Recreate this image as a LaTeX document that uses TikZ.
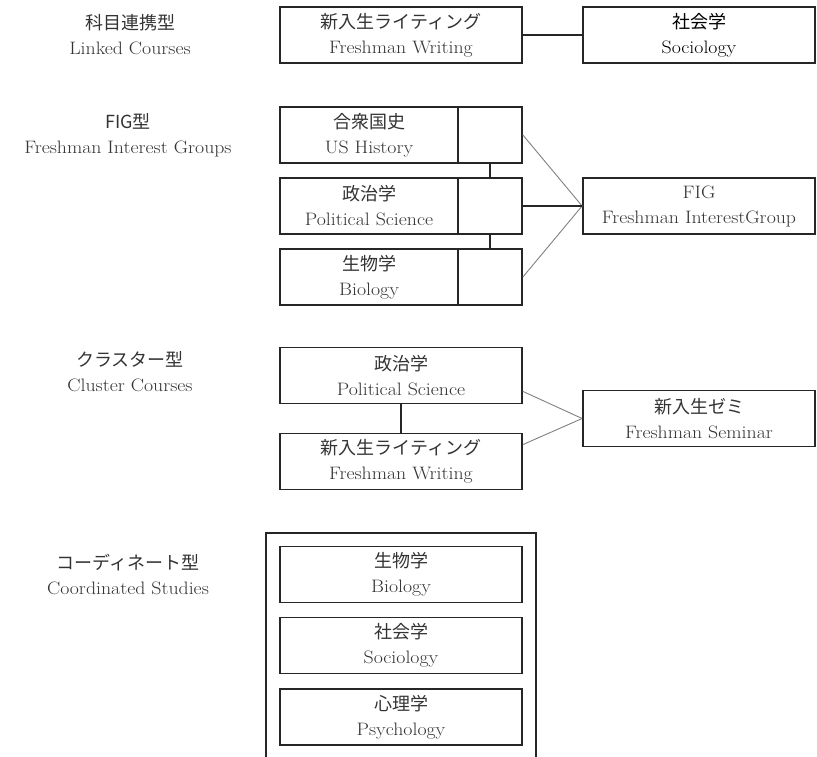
\documentclass[tikz,border=0pt]{standalone}
\usepackage{fontspec}
\setmainfont{Latin Modern Roman}[FakeStretch=1.1]
\newfontfamily\jp{Noto Sans CJK JP}
\usetikzlibrary{calc}
\definecolor{boxc}{HTML}{262626}
\definecolor{txtc}{HTML}{333333}
\definecolor{thinc}{HTML}{808080}
\begin{document}
\begin{tikzpicture}[x=1pt,y=-1pt,
  box/.style={draw=boxc, line width=1.8pt, minimum height=56pt, inner sep=0pt, align=center, text=txtc, font=\fontsize{18}{25}\selectfont},
  wide/.style={box, minimum width=242pt},
  half/.style={box, minimum width=178pt},
  stub/.style={box, minimum width=64pt},
  sidebox/.style={box, minimum width=232pt},
  lab/.style={align=center, text=txtc, font=\fontsize{18}{25}\selectfont},
  link/.style={draw=boxc, line width=1.8pt},
  thin/.style={draw=thinc, line width=0.9pt}]
\useasboundingbox (0,0) rectangle (817,757);
% Row 1: Linked Courses
\node[lab] (l1) at (130,35) {{\jp 科目連携型}\\Linked Courses};
\node[wide] (fw1) at (401,35) {{\jp 新入生ライティング}\\Freshman Writing};
\node[sidebox, text=black] (soc1) at (699,35) {{\jp 社会学}\\Sociology};
\draw[link] (fw1.east) -- (soc1.west);
% Row 2: FIG
\node[lab] (l2) at (128,135) {{\jp FIG型}\\Freshman Interest Groups};
\node[half] (usL) at (369,135) {{\jp 合衆国史}\\US History};
\node[stub] (usR) at (490,135) {};
\node[half] (psL) at (369,206) {{\jp 政治学}\\Political Science};
\node[stub] (psR) at (490,206) {};
\node[half] (biL) at (369,277) {{\jp 生物学}\\Biology};
\node[stub] (biR) at (490,277) {};
\node[sidebox] (fig) at (699,206) {FIG\\Freshman InterestGroup};
\draw[link] (usR.south) -- (psR.north);
\draw[link] (psR.south) -- (biR.north);
\draw[thin] (usR.east) -- (fig.west);
\draw[thin] (biR.east) -- (fig.west);
\draw[link] (psR.east) -- (fig.west);
% Row 3: Cluster
\node[lab] (l3) at (130,372) {{\jp クラスター型}\\Cluster Courses};
\node[wide] (cps) at (401,375.5) {{\jp 政治学}\\Political Science};
\node[wide] (cfw) at (401,461.5) {{\jp 新入生ライティング}\\Freshman Writing};
\node[sidebox] (sem) at (699,418.5) {{\jp 新入生ゼミ}\\Freshman Seminar};
\draw[link] (cps.south) -- (cfw.north);
\draw[thin] ($(cps.south east)+(0,-13)$) -- (sem.west);
\draw[thin] ($(cfw.north east)+(0,12)$) -- (sem.west);
% Row 4: Coordinated
\node[lab] (l4) at (128,574) {{\jp コーディネート型}\\Coordinated Studies};
\coordinate (obl) at (266,757);
\coordinate (otr) at (536,533);
\coordinate (obr) at (536,757);
\draw[link] (obl) |- (otr) -- (obr);
\node[wide] (cb) at (401,574.5) {{\jp 生物学}\\Biology};
\node[wide] (cs) at (401,645.5) {{\jp 社会学}\\Sociology};
\node[wide] (cp) at (401,717) {{\jp 心理学}\\Psychology};
\end{tikzpicture}
\end{document}
